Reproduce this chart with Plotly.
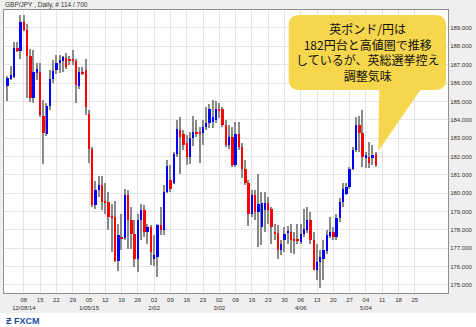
import numpy as np
import pandas as pd
import plotly.graph_objects as go

# GBP/JPY daily candles, 2014-12-01 .. 2015-05-07 (114 bars)
open_ = [185.84, 186.20, 186.34, 187.89, 187.76, 189.34, 188.89, 187.49, 185.16, 186.56,
         186.62, 184.20, 183.25, 184.74, 186.20, 186.71, 187.07, 187.22, 187.34, 187.31,
         187.27, 187.22, 185.84, 186.60, 186.71, 184.34, 182.38, 179.34, 180.16, 180.43,
         179.56, 179.51, 178.74, 178.71, 176.31, 177.58, 177.56, 179.89, 178.53, 177.80,
         176.43, 178.53, 179.07, 177.91, 178.16, 176.43, 176.53, 178.25, 177.98, 180.07,
         180.74, 180.53, 182.13, 183.43, 183.25, 182.71, 181.98, 182.98, 183.34, 183.33,
         183.29, 183.62, 183.83, 183.89, 183.98, 184.60, 184.56, 183.71, 182.62, 183.07,
         181.53, 183.25, 182.53, 181.29, 180.53, 178.89, 179.89, 178.98, 178.16, 179.07,
         179.47, 179.11, 177.87, 177.85, 176.93, 177.43, 177.85, 177.89, 177.47, 177.51,
         177.34, 177.76, 177.98, 178.56, 177.43, 175.83, 176.25, 176.43, 176.85, 177.65,
         177.89, 177.62, 178.62, 179.53, 179.98, 180.34, 181.34, 182.34, 183.71, 183.29,
         181.89, 181.98, 181.94, 182.13]
high = [186.38, 186.93, 188.22, 188.25, 189.73, 189.73, 189.22, 187.83, 187.80, 187.07,
        187.07, 185.07, 184.89, 186.71, 187.25, 187.53, 187.53, 187.47, 187.62, 187.47,
        187.80, 187.29, 186.89, 186.89, 187.29, 184.53, 182.53, 180.67, 180.93, 180.93,
        180.53, 180.07, 179.43, 179.58, 178.34, 178.89, 180.25, 180.16, 179.25, 178.53,
        178.89, 179.40, 179.34, 178.34, 178.25, 177.71, 178.34, 179.25, 180.43, 181.80,
        181.53, 182.25, 183.98, 184.16, 183.43, 183.16, 183.34, 184.20, 183.98, 183.62,
        183.98, 184.71, 184.85, 185.07, 185.03, 184.93, 184.71, 183.98, 183.71, 183.62,
        183.89, 183.89, 182.71, 181.80, 180.71, 180.16, 180.16, 181.07, 180.07, 180.07,
        179.80, 179.25, 178.34, 178.25, 177.43, 178.16, 178.20, 178.34, 177.89, 178.34,
        178.34, 179.11, 179.25, 178.98, 177.89, 177.25, 176.89, 177.43, 177.98, 178.71,
        178.16, 178.89, 179.71, 180.53, 180.53, 181.43, 182.53, 184.13, 184.20, 184.53,
        182.25, 182.80, 182.62, 182.25]
low = [185.04, 186.16, 186.25, 187.71, 187.29, 188.85, 185.16, 184.98, 184.94, 186.16,
       184.16, 181.58, 183.11, 184.53, 185.98, 186.49, 186.56, 186.62, 186.74, 186.98,
       186.98, 184.93, 185.65, 186.43, 184.25, 181.65, 179.25, 179.11, 179.80, 179.07,
       178.89, 178.02, 176.80, 176.25, 175.76, 176.92, 177.47, 176.98, 176.98, 175.98,
       175.71, 177.43, 177.62, 177.25, 176.07, 176.02, 175.43, 177.71, 177.71, 180.02,
       180.07, 180.49, 181.98, 181.03, 182.34, 181.53, 181.58, 182.56, 183.07, 181.65,
       182.62, 183.43, 183.53, 183.53, 183.80, 184.07, 183.62, 182.53, 182.43, 181.43,
       181.43, 182.34, 180.80, 180.43, 178.20, 178.71, 178.53, 177.07, 177.16, 177.89,
       178.34, 177.25, 177.43, 176.43, 176.62, 176.80, 177.25, 176.74, 176.71, 177.25,
       177.25, 177.62, 177.83, 177.25, 175.80, 175.25, 174.85, 175.25, 176.71, 177.53,
       177.43, 177.43, 178.43, 179.25, 179.89, 180.25, 181.25, 182.25, 182.25, 181.43,
       181.38, 181.38, 181.51, 181.43]
close = [186.25, 186.42, 187.89, 187.80, 189.34, 188.89, 187.47, 185.16, 186.62, 186.74,
         184.25, 183.29, 184.74, 186.20, 186.65, 187.07, 187.25, 187.40, 186.85, 187.25,
         187.22, 185.89, 186.62, 186.54, 184.67, 182.38, 179.34, 180.16, 180.43, 179.53,
         179.51, 178.71, 178.67, 176.31, 177.71, 177.51, 179.89, 178.53, 177.80, 176.43,
         178.56, 179.07, 177.89, 178.13, 176.80, 176.62, 178.25, 177.98, 180.07, 181.47,
         180.20, 182.16, 183.47, 183.07, 182.62, 181.98, 183.02, 183.34, 183.25, 183.27,
         183.62, 183.83, 184.56, 184.13, 184.56, 184.53, 183.71, 182.62, 183.07, 181.53,
         183.25, 182.53, 181.29, 180.53, 178.89, 179.89, 178.98, 179.43, 179.47, 179.47,
         179.07, 178.16, 177.80, 176.93, 177.25, 177.76, 177.93, 177.43, 177.40, 177.43,
         177.80, 178.07, 178.56, 177.43, 175.83, 176.25, 176.53, 176.93, 177.71, 177.89,
         177.62, 178.62, 179.53, 180.25, 180.34, 181.34, 182.34, 183.71, 183.29, 181.98,
         182.07, 181.62, 182.07, 181.53]

first_day = "2014-12-01"
axis_origin = "2014-12-08"
tick_start = "2014-12-08"
tick_day = ["08", "15", "22", "29", "05", "12", "19", "26", "02", "09", "16", "23",
            "02", "09", "16", "23", "30", "06", "13", "20", "27", "04", "11", "18", "25"]
tick_month = ["12/08/14", "", "", "", "1/05/15", "", "", "", "2/02", "", "", "",
              "3/02", "", "", "", "", "4/06", "", "", "", "5/04", "", "", ""]
y_ticks = [175, 176, 177, 178, 179, 180, 181, 182, 183, 184, 185, 186, 187, 188, 189]

title_text = "GBP/JPY , Daily, # 114 / 700"
callout = "英ポンド/円は<br>182円台と高値圏で推移<br>しているが、英総選挙控え<br>調整気味"

# ---------------------------------------------------------------
o = np.array(open_); h = np.array(high); l = np.array(low); c = np.array(close)
dates = pd.bdate_range(first_day, periods=len(o)).values.astype("datetime64[D]")
x = np.busday_count(np.datetime64(axis_origin), dates)
tick_dates = pd.date_range(tick_start, periods=len(tick_day), freq="7D").values.astype("datetime64[D]")
tick_x = np.busday_count(np.datetime64(axis_origin), tick_dates)
tick_text = [d + "<br>" + (m if m else " ") for d, m in zip(tick_day, tick_month)]

up = c >= o
body_base = np.minimum(o, c)
body_h = np.maximum(np.abs(c - o), 0.06)
colors = np.where(up, "#0000ff", "#ff0000")

fig = go.Figure()
fig.add_trace(go.Bar(x=x, y=h - l, base=l, width=0.42,
                     marker=dict(color="#8a8a8a", line_width=0), hoverinfo="skip"))
fig.add_trace(go.Bar(x=x, y=body_h, base=body_base, width=0.72,
                     marker=dict(color=list(colors), line_width=0)))

W, H = 476, 327
ml, mr, mt, mb = 3, 27, 10, 34
pw, ph = W - ml - mr, H - mt - mb


def px(xp):
    return (xp - ml) / pw


def py(yp):
    return (H - mb - yp) / ph


# callout bubble (rounded rectangle) + pointer
bx0, bx1, by0, by1, r = 289, 447, 15, 90, 11
rx, ry = r / pw, r / ph
X0, X1, Yt, Yb = px(bx0), px(bx1), py(by0), py(by1)
bubble = (f"M {X0+rx},{Yt} L {X1-rx},{Yt} Q {X1},{Yt} {X1},{Yt-ry} "
          f"L {X1},{Yb+ry} Q {X1},{Yb} {X1-rx},{Yb} "
          f"L {X0+rx},{Yb} Q {X0},{Yb} {X0},{Yb+ry} "
          f"L {X0},{Yt-ry} Q {X0},{Yt} {X0+rx},{Yt} Z")
pointer = f"M {px(380)},{py(86)} L {px(424)},{py(86)} L {px(379)},{py(151)} Z"

fig.update_layout(
    width=W, height=H,
    margin=dict(l=ml, r=mr, t=mt, b=mb, pad=0),
    barmode="overlay", bargap=0, showlegend=False,
    paper_bgcolor="#efefef", plot_bgcolor="#ffffff",
    font=dict(family="Liberation Sans, Arial, sans-serif", size=6, color="#333333"),
    xaxis=dict(range=[-6.1, 130.2], tickmode="array", tickvals=tick_x, ticktext=tick_text,
               tickangle=0, ticklabelstandoff=1,
               showgrid=True, gridcolor="#e4e4e4", gridwidth=1, zeroline=False,
               showline=True, linecolor="#8f8f8f", linewidth=1, mirror=True, ticks="",
               tickfont=dict(size=6, color="#333333"), fixedrange=True),
    yaxis=dict(range=[174.56, 189.98], side="right", tickmode="array", tickvals=y_ticks,
               ticktext=[f"{v:.3f}" for v in y_ticks],
               showgrid=True, gridcolor="#e4e4e4", gridwidth=1, zeroline=False,
               showline=True, linecolor="#8f8f8f", linewidth=1, mirror=True, ticks="",
               tickfont=dict(size=6, color="#333333"), fixedrange=True),
    shapes=[
        dict(type="rect", xref="paper", yref="paper", x0=px(-2), x1=px(480),
             y0=py(330), y1=py(313), fillcolor="#ffffff", line_width=0, layer="below"),
        dict(type="path", xref="paper", yref="paper", path=bubble,
             fillcolor="#f6d64c", line_width=0, layer="above"),
        dict(type="path", xref="paper", yref="paper", path=pointer,
             fillcolor="#f6d64c", line_width=0, layer="above"),
    ],
    annotations=[
        dict(text=title_text, xref="paper", yref="paper", x=px(2), y=py(5),
             xanchor="left", yanchor="middle", showarrow=False,
             font=dict(size=6.5, color="#333333")),
        dict(text=callout, xref="paper", yref="paper", x=px(368), y=py(52),
             xanchor="center", yanchor="middle", showarrow=False, align="center",
             font=dict(family="Noto Sans CJK JP", size=12, color="#111111")),
        dict(text="<b>Ƶ FXCM</b>", xref="paper", yref="paper", x=px(3), y=py(321),
             xanchor="left", yanchor="middle", showarrow=False,
             font=dict(family="Liberation Sans, Arial", size=9, color="#1c4f9e")),
    ],
)

fig.write_html("out.html")
